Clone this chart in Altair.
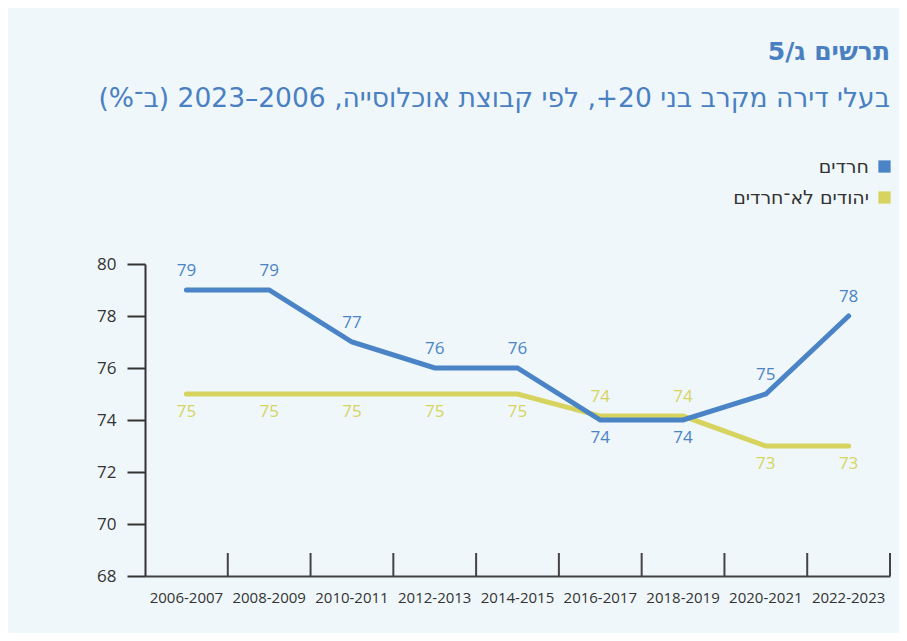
import altair as alt
import pandas as pd

# ---- data ----
periods = ["2006-2007", "2008-2009", "2010-2011", "2012-2013", "2014-2015",
           "2016-2017", "2018-2019", "2020-2021", "2022-2023"]
haredi = [79, 79, 77, 76, 76, 74.0, 74.0, 75, 78]
non_haredi = [75, 75, 75, 75, 75, 74.15, 74.15, 73, 73]
series_names = ["חרדים", "יהודים לא־חרדים"]
series_colors = ["#4a84c6", "#d6d45e"]
y_ticks = [68, 70, 72, 74, 76, 78, 80]

title_text = "תרשים ג/5"
subtitle_text = "בעלי דירה מקרב בני 20+, לפי קבוצת אוכלוסייה, 2006–2023 (ב־%)"

RLE, PDF = "\u202b", "\u202c"
FONT = "Open Sans, Noto Sans Hebrew, DejaVu Sans, sans-serif"
TFONT = "DejaVu Sans, sans-serif"
BG = "#eff7fa"
INK = "#333333"
W, H = 745, 312

rows = []
for name, vals, others in [(series_names[1], non_haredi, haredi),
                           (series_names[0], haredi, non_haredi)]:
    for p, v, o in zip(periods, vals, others):
        rows.append({"period": p, "series": name, "value": v,
                     "label": str(round(v)), "above": bool(v > o)})
df = pd.DataFrame(rows)
sep_df = pd.DataFrame({"period": periods})

xscale = alt.Scale(type="band", domain=periods, paddingInner=0, paddingOuter=0)
yscale = alt.Scale(domain=[68, 80], nice=False, zero=False)
# legend (color) scale
cscale = alt.Scale(domain=series_names, range=series_colors)
# same mapping for the marks, listed in the other order so it is not merged with the legend
mscale = alt.Scale(domain=series_names[::-1], range=series_colors[::-1])

xaxis = alt.Axis(title=None, ticks=False, labelAngle=0, labelFontSize=15,
                 labelColor=INK, labelFont=FONT, labelPadding=14,
                 domainColor="#444444", domainWidth=2, grid=False)
yaxis = alt.Axis(title=None, values=y_ticks, tickSize=18, tickWidth=2,
                 tickColor=INK, domainColor=INK, domainWidth=2,
                 labelFontSize=17, labelColor=INK, labelFont=FONT,
                 labelPadding=11, grid=False)


def X(bp):
    return alt.X("period:N", sort=periods, scale=xscale, axis=xaxis, bandPosition=bp)


Y = alt.Y("value:Q", scale=yscale, axis=yaxis)
STROKE = alt.Stroke("series:N", scale=mscale, legend=None)
FILL = alt.Fill("series:N", scale=mscale, legend=None)

base = alt.Chart(df).encode(x=X(0.5), y=Y)

line_y = base.mark_line(strokeWidth=5, strokeCap="round").encode(stroke=STROKE).transform_filter(
    alt.datum.series == series_names[1])
line_b = base.mark_line(strokeWidth=5, strokeCap="round").encode(stroke=STROKE).transform_filter(
    alt.datum.series == series_names[0])

text_above = base.mark_text(fontSize=17, font=FONT, dy=-19, baseline="middle").encode(
    text="label:N", fill=FILL).transform_filter("datum.above")
text_below = base.mark_text(fontSize=17, font=FONT, dy=18, baseline="middle").encode(
    text="label:N", fill=FILL).transform_filter("!datum.above")

seps = alt.Chart(sep_df).mark_rule(color="#444444", strokeWidth=2).encode(
    x=X(1), y=alt.value(H), y2=alt.value(H - 23))

# legend only: no marks are drawn (filter keeps no rows), the scale domain is explicit
legend_layer = base.mark_square(size=144, filled=True, opacity=1).encode(
    color=alt.Color("series:N", scale=cscale, legend=alt.Legend(
        orient="none", legendX=730, legendY=-107, direction="vertical",
        symbolType="square", symbolSize=150, symbolStrokeWidth=0, symbolOpacity=1,
        labelAlign="right", labelOffset=alt.ExprRef("-25"), labelFontSize=19,
        labelColor=INK, labelFont=TFONT, rowPadding=11, title=None,
        padding=0, labelLimit=300))
).transform_filter("datum.value > 100")

chart = alt.layer(seps, line_y, line_b, text_above, text_below, legend_layer).properties(
    width=W, height=H,
    background=BG,
    padding={"left": 137, "top": 256, "right": 9, "bottom": 57},
    autosize=alt.AutoSizeParams(type="none"),
    title=alt.TitleParams(
        text=RLE + title_text + PDF,
        subtitle=RLE + subtitle_text + PDF,
        anchor="end", frame="group", orient="top",
        font=TFONT, fontSize=25, fontWeight="bold", color="#4a80c2",
        subtitleFont=TFONT, subtitleFontSize=26.5, subtitleColor="#4a80c2",
        subtitlePadding=21, offset=45),
).configure_view(stroke=None)

chart.save("out.html", embed_options={"renderer": "svg", "actions": False})
